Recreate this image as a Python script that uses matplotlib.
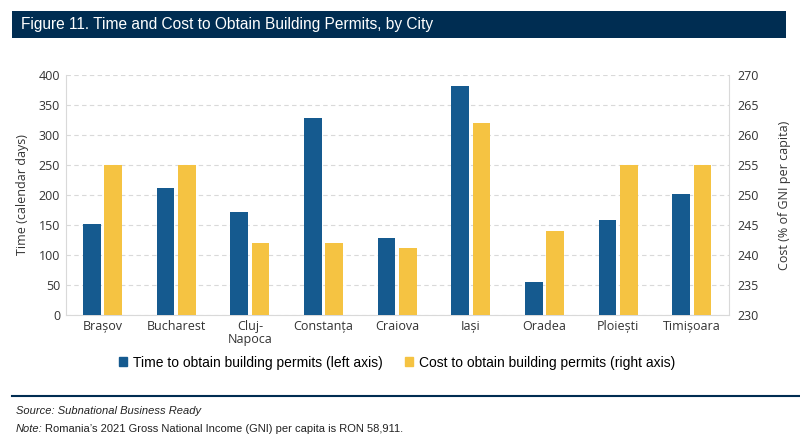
import matplotlib.pyplot as plt
import numpy as np
from matplotlib.patches import Rectangle

cities = ['Brașov', 'Bucharest', 'Cluj-\nNapoca', 'Constanța', 'Craiova',
          'Iași', 'Oradea', 'Ploiești', 'Timișoara']
time_days = [152, 211, 172, 328, 129, 381, 54, 158, 201]
cost_gni = [255, 255, 242, 242, 241.2, 262, 244, 255, 255]

blue = '#155a8f'
yellow = '#f5c342'
navy = '#002d52'
grid_c = '#d9d9d9'
txt = '#333333'

plt.rcParams['font.family'] = ['Open Sans', 'DejaVu Sans']
narrow = ['Liberation Sans Narrow', 'Liberation Sans', 'DejaVu Sans']

fig = plt.figure(figsize=(8, 4.41), dpi=100)

# title bar
fig.patches.append(Rectangle((0.015, 0.913), 0.967, 0.063, transform=fig.transFigure,
                             facecolor=navy, edgecolor='none'))
fig.text(0.026, 0.944, 'Figure 11. Time and Cost to Obtain Building Permits, by City',
         color='white', fontsize=11.2, va='center', family=narrow)

ax = fig.add_axes([0.082, 0.286, 0.829, 0.544])
ax2 = ax.twinx()

x = np.arange(len(cities))
w = 0.24
ax.bar(x - 0.145, time_days, w, color=blue, zorder=3)
ax2.bar(x + 0.145, cost_gni, w, color=yellow, zorder=3)

ax.set_xlim(-0.5, len(cities) - 0.5)
ax.set_ylim(0, 400)
ax.set_yticks(range(0, 401, 50))
ax2.set_ylim(230, 270)
ax2.set_yticks(range(230, 271, 5))
ax.set_xticks(x)
ax.set_xticklabels(cities, fontsize=9, color=txt, linespacing=1.0)

ax.yaxis.grid(True, color=grid_c, linestyle=(0, (4, 3)), linewidth=0.8, zorder=0)
ax.set_axisbelow(True)

for a in (ax, ax2):
    for s in a.spines.values():
        s.set_visible(False)
    a.tick_params(length=0, labelsize=9, colors=txt)
ax.spines['left'].set_visible(True)
ax.spines['left'].set_color(grid_c)
ax.spines['bottom'].set_visible(True)
ax.spines['bottom'].set_color(grid_c)
ax2.spines['right'].set_visible(True)
ax2.spines['right'].set_color(grid_c)
ax.tick_params(axis='x', pad=4)
ax.tick_params(axis='y', pad=4)
ax2.tick_params(axis='y', pad=6)

ax.set_ylabel('Time (calendar days)', fontsize=9, color=txt, labelpad=7)
ax2.set_ylabel('Cost (% of GNI per capita)', fontsize=9, color=txt, labelpad=14)

# legend
h1 = Rectangle((0, 0), 1, 1, color=blue)
h2 = Rectangle((0, 0), 1, 1, color=yellow)
fig.legend([h1, h2], ['Time to obtain building permits (left axis)',
                      'Cost to obtain building permits (right axis)'],
           loc='center', bbox_to_anchor=(0.496, 0.178), ncol=2, frameon=False,
           handlelength=0.6, handleheight=0.6, handletextpad=0.4, columnspacing=1.6,
           prop={'family': narrow, 'size': 10})

# separator and notes
fig.add_artist(plt.Line2D([0.015, 1.0], [0.103, 0.103], transform=fig.transFigure,
                          color=navy, linewidth=1.5))
fig.text(0.02, 0.068, 'Source: Subnational Business Ready', fontsize=8, style='italic',
         color='#222222', va='center', family=narrow)
fig.text(0.02, 0.027, 'Note:', fontsize=8, style='italic', color='#222222',
         va='center', family=narrow)
fig.text(0.056, 0.027, 'Romania’s 2021 Gross National Income (GNI) per capita is RON 58,911.',
         fontsize=8, color='#222222', va='center', family=narrow)

fig.savefig('out.png', dpi=100)
